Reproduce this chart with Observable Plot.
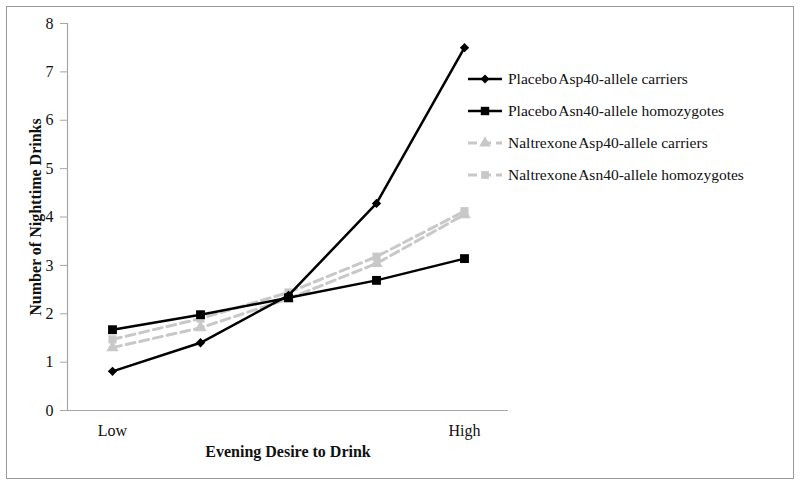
<!DOCTYPE html>
<html>
<head>
<meta charset="utf-8">
<script src="https://cdn.jsdelivr.net/npm/d3@7"></script>
<script src="https://cdn.jsdelivr.net/npm/@observablehq/plot@0.6"></script>
<style>
  html, body { margin: 0; padding: 0; background: #fff; }
  #wrap { position: relative; width: 800px; height: 485px; font-family: "Liberation Serif", "DejaVu Serif", serif; }
  #border { position: absolute; left: 6px; top: 6px; width: 786px; height: 471px; border: 1px solid #9a9a9a; pointer-events: none; }
  #legend { position: absolute; left: 466px; top: 63px; font-size: 15.5px; color: #111; }
  .item { display: flex; align-items: center; height: 32px; }
  .item svg { margin-right: 4px; }
</style>
</head>
<body>
<div id="wrap"><div id="chart"></div><div id="border"></div><div id="legend"></div></div>
<script>
const levels = ["Low", "2", "3", "4", "High"];
const tickLabels = {"Low": "Low", "High": "High"};
const seriesNames = [
  "Placebo Asp40-allele carriers",
  "Placebo Asn40-allele homozygotes",
  "Naltrexone Asp40-allele carriers",
  "Naltrexone Asn40-allele homozygotes"
];
const placeboAsp = [0.81, 1.40, 2.38, 4.28, 7.50];
const placeboAsn = [1.67, 1.98, 2.33, 2.69, 3.14];
const naltrexoneAsp = [1.30, 1.71, 2.31, 3.04, 4.05];
const naltrexoneAsn = [1.47, 1.90, 2.44, 3.18, 4.12];
const seriesValues = [placeboAsp, placeboAsn, naltrexoneAsp, naltrexoneAsn];
const colors = ["#000000", "#000000", "#c8c8c8", "#c8c8c8"];
const symbols = ["diamond2", "square", "triangle", "square"];
const dashes = [null, null, "9,5", "9,5"];
const widths = [2.5, 2.5, 3, 3];
const sizes = [4.2, 5, 4.6, 4.6];

const data = seriesNames.flatMap((s, i) => levels.map((l, j) => ({series: s, idx: i, level: l, value: seriesValues[i][j]})));

const marks = [
  Plot.ruleY([0], {stroke: "#a6a6a6", strokeWidth: 1.2}),
  Plot.frame({anchor: "left", stroke: "#a6a6a6", strokeWidth: 1.2}),
  Plot.axisX({tickSize: 0, tickPadding: 14, fontSize: 16, tickFormat: d => tickLabels[d] || "",
      label: "Evening Desire to Drink", labelAnchor: "center", labelOffset: 46}),
  Plot.axisY({ticks: d3.range(0, 9), tickSize: 7, tickPadding: 7, fontSize: 16, tickFormat: d3.format("d"), stroke: "#a6a6a6",
      label: "Number of Nighttime Drinks", labelAnchor: "center", labelOffset: 38, labelArrow: "none"})
];
[2, 3, 1, 0].forEach(i => {
  const d = data.filter(r => r.idx === i);
  marks.push(Plot.line(d, {x: "level", y: "value", stroke: colors[i], strokeWidth: widths[i], strokeDasharray: dashes[i]}));
  marks.push(Plot.dot(d, {x: "level", y: "value", fill: colors[i], stroke: "none", symbol: () => symbols[i], r: sizes[i]}));
});

const chart = Plot.plot({
  width: 800,
  height: 485,
  marginLeft: 67,
  marginRight: 292,
  marginTop: 23,
  marginBottom: 75,
  style: {fontFamily: "Liberation Serif, DejaVu Serif, serif", fontSize: "16px", color: "#111", background: "transparent"},
  x: {type: "point", domain: levels, padding: 0.5},
  y: {domain: [0, 8]},
  symbol: {type: "identity"},
  marks
});
chart.querySelectorAll("[aria-label='x-axis label'], [aria-label='y-axis label']").forEach(g => {
  g.setAttribute("font-weight", "bold");
  g.setAttribute("font-size", "16");
  g.querySelectorAll("text").forEach(t => { t.textContent = t.textContent.replace(/[↑→←↓]/g, "").trim(); });
});
document.getElementById("chart").appendChild(chart);

// legend
const legend = document.getElementById("legend");
seriesNames.forEach((s, i) => {
  const div = document.createElement("div");
  div.className = "item";
  const sym = d3.symbol(i === 0 ? d3.symbolDiamond2 : i === 2 ? d3.symbolTriangle : d3.symbolSquare, Math.PI * sizes[i] * sizes[i] * 0.9)();
  div.innerHTML = `<svg width="38" height="14"><line x1="2" x2="36" y1="7" y2="7" stroke="${colors[i]}" stroke-width="${widths[i]}" ${dashes[i] ? `stroke-dasharray="9,5"` : ""}/><path d="${sym}" transform="translate(19,7)" fill="${colors[i]}"/></svg><span>${s.replace(/^(Placebo|Naltrexone) /, "$1&#8202;")}</span>`;
  legend.appendChild(div);
});
</script>
</body>
</html>
